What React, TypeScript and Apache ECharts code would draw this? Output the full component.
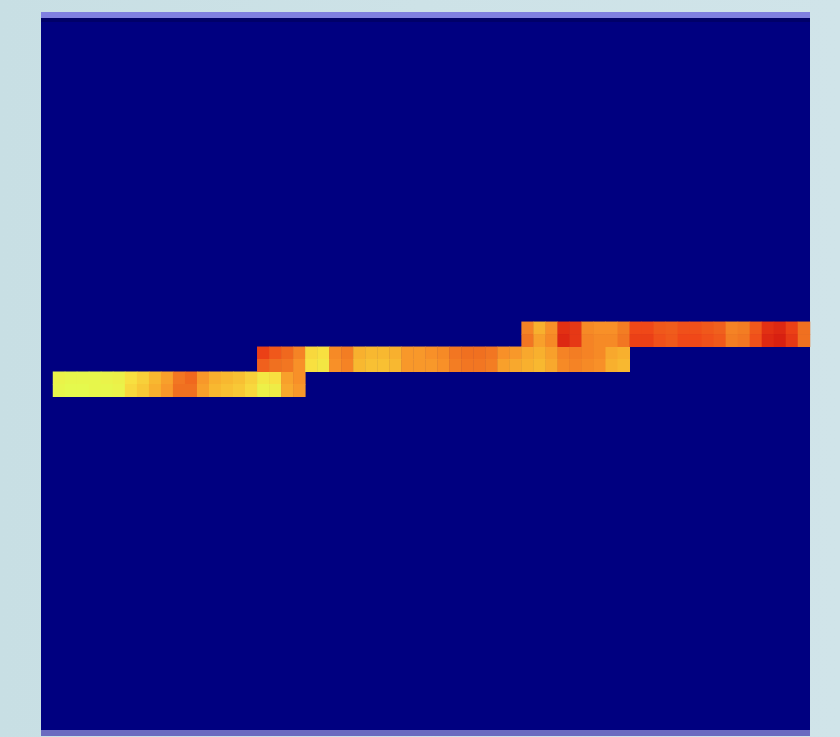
import React, { useEffect, useRef } from "react";
import * as echarts from "echarts";

// grid of cells
const COLS = 64;
const ROWS = 57;

// segment 1 (lowest, left): rows 28-29, columns from 1
const seg1Row = 28;
const seg1Start = 1;
const seg1Top = [96, 97, 97, 97, 96, 95, 90, 86, 80, 74, 62, 58, 72, 78, 80, 82, 86, 92, 90, 74, 70];
const seg1Bottom = [97, 98, 98, 97, 97, 96, 88, 84, 78, 72, 60, 60, 74, 80, 82, 84, 88, 95, 94, 76, 72];

// segment 2 (middle): rows 26-27, columns from 18
const seg2Row = 26;
const seg2Start = 18;
const seg2Top = [48, 54, 58, 66, 88, 90, 68, 64, 78, 80, 80, 78, 72, 72, 70, 68, 62, 60, 60, 62, 70, 72, 76, 78, 74, 66, 64, 66, 68, 76, 78];
const seg2Bottom = [56, 60, 62, 70, 90, 92, 70, 66, 80, 82, 82, 80, 72, 72, 72, 70, 64, 62, 62, 64, 74, 76, 78, 80, 76, 68, 66, 68, 70, 78, 80];

// segment 3 (highest, right): rows 24-25, columns from 40
const seg3Row = 24;
const seg3Start = 40;
const seg3Top = [66, 78, 70, 44, 46, 68, 70, 70, 64, 50, 50, 54, 55, 52, 52, 54, 56, 66, 64, 54, 44, 42, 48, 60];
const seg3Bottom = [62, 74, 68, 42, 46, 66, 68, 68, 62, 48, 48, 52, 54, 50, 50, 52, 54, 64, 62, 52, 42, 40, 46, 60];

const colorScale = [
  "#000080",
  "#300040",
  "#600020",
  "#a01010",
  "#d82010",
  "#f04818",
  "#f07020",
  "#f89028",
  "#f8b830",
  "#f8e040",
  "#e0ff50",
];

function buildData() {
  const data: [number, number, number][] = [];
  const add = (row: number, start: number, top: number[], bottom: number[]) => {
    top.forEach((v, i) => data.push([start + i, row, v]));
    bottom.forEach((v, i) => data.push([start + i, row + 1, v]));
  };
  add(seg1Row, seg1Start, seg1Top, seg1Bottom);
  add(seg2Row, seg2Start, seg2Top, seg2Bottom);
  add(seg3Row, seg3Start, seg3Top, seg3Bottom);
  return data;
}

export default function App() {
  const ref = useRef<HTMLDivElement>(null);
  useEffect(() => {
    const prevMargin = document.body.style.margin;
    document.body.style.margin = "0";
    if (!ref.current) return;
    const chart = echarts.init(ref.current, undefined, { renderer: "svg" });
    const xCats = Array.from({ length: COLS }, (_, i) => String(i));
    const yCats = Array.from({ length: ROWS }, (_, i) => String(i));
    chart.setOption({
      animation: false,
      backgroundColor: "transparent",
      grid: {
        left: 41,
        top: 22,
        width: 769,
        height: 712,
        show: true,
        backgroundColor: "#000080",
        borderWidth: 0,
      },
      xAxis: {
        type: "category",
        data: xCats,
        show: false,
      },
      yAxis: {
        type: "category",
        data: yCats,
        inverse: true,
        show: false,
      },
      visualMap: {
        type: "continuous",
        min: 0,
        max: 100,
        show: false,
        inRange: { color: colorScale },
      },
      graphic: [
        {
          type: "rect",
          shape: { x: 41, y: 12, width: 769, height: 6 },
          style: { fill: "#8080e0" },
          z: 100,
        },
        {
          type: "rect",
          shape: { x: 41, y: 18, width: 769, height: 4 },
          style: { fill: "#000068" },
          z: 100,
        },
        {
          type: "rect",
          shape: { x: 41, y: 730, width: 769, height: 6 },
          style: { fill: "#6a6ac0" },
          z: 100,
        },
      ],
      series: [
        {
          type: "heatmap",
          data: buildData(),
          itemStyle: { borderWidth: 0 },
          emphasis: { disabled: true },
        },
      ],
    });
    return () => {
      chart.dispose();
      document.body.style.margin = prevMargin;
    };
  }, []);
  return (
    <div
      style={{
        position: "fixed",
        left: 0,
        top: 0,
        width: 840,
        height: 737,
        background: "linear-gradient(90deg, #c8dfe4 0%, #cde2e7 50%, #d0e4e9 100%)",
      }}
    >
      <div ref={ref} style={{ width: 840, height: 737 }} />
    </div>
  );
}
